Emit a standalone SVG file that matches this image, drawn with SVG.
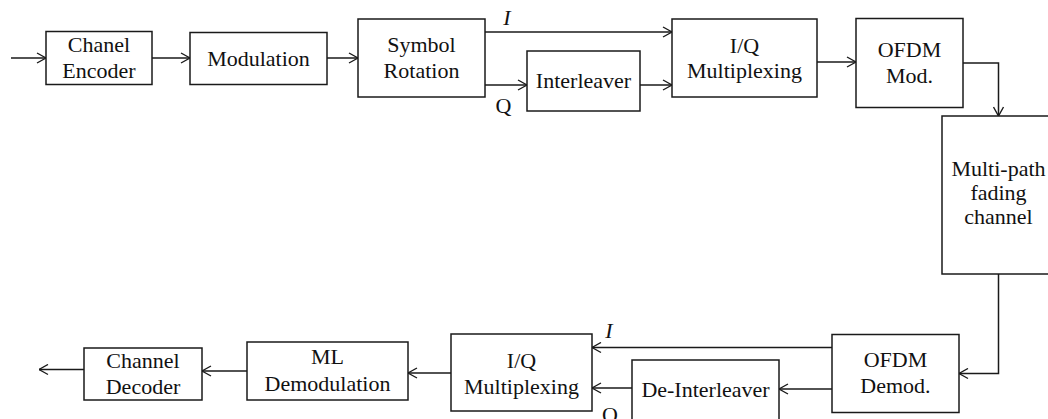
<svg xmlns="http://www.w3.org/2000/svg" width="1048" height="419" viewBox="0 0 1048 419">
<style>
.box{fill:#fff;stroke:#1a1a1a;stroke-width:1.5}
.t{font-family:"Liberation Serif","Times New Roman",serif;font-size:22px;fill:#111;text-anchor:middle}
.it{font-style:italic}
.c{fill:none;stroke:#1a1a1a;stroke-width:1.5}
</style>
<defs>
<marker id="ah" viewBox="0 0 10 12" refX="10" refY="6" markerWidth="10" markerHeight="12" markerUnits="userSpaceOnUse" orient="auto">
<path d="M1,1 L10,6 L1,11" fill="none" stroke="#1a1a1a" stroke-width="1.4"/>
</marker>
</defs>
<rect width="1048" height="419" fill="#fff"/>
<g id="connectors">
<line class="c" x1="11" y1="58" x2="46" y2="58" marker-end="url(#ah)"/>
<line class="c" x1="152" y1="58" x2="190" y2="58" marker-end="url(#ah)"/>
<line class="c" x1="327" y1="58" x2="358" y2="58" marker-end="url(#ah)"/>
<line class="c" x1="485" y1="32" x2="672" y2="32" marker-end="url(#ah)"/>
<line class="c" x1="485" y1="85" x2="527" y2="85" marker-end="url(#ah)"/>
<line class="c" x1="640" y1="85" x2="672" y2="85" marker-end="url(#ah)"/>
<line class="c" x1="817" y1="62" x2="856" y2="62" marker-end="url(#ah)"/>
<polyline class="c" points="963,63 998.5,63 998.5,116" marker-end="url(#ah)"/>
<polyline class="c" points="998.5,274 998.5,373.5 959,373.5" marker-end="url(#ah)"/>
<line class="c" x1="832" y1="347.5" x2="592" y2="347.5" marker-end="url(#ah)"/>
<line class="c" x1="832" y1="389" x2="779" y2="389" marker-end="url(#ah)"/>
<line class="c" x1="632" y1="388" x2="592" y2="388" marker-end="url(#ah)"/>
<line class="c" x1="451" y1="373" x2="408" y2="373" marker-end="url(#ah)"/>
<line class="c" x1="247" y1="371" x2="202" y2="371" marker-end="url(#ah)"/>
<line class="c" x1="84" y1="369.5" x2="39" y2="369.5" marker-end="url(#ah)"/>
<text class="t it" x="507" y="25">I</text>
<text class="t" x="503.5" y="113">Q</text>
<text class="t it" x="609" y="338">I</text>
<text class="t" x="610" y="421.5">Q</text>
</g>
<g id="chanel-encoder"><rect class="box" x="46" y="31.5" width="106" height="53"/><text class="t" x="99" y="51.5">Chanel</text><text class="t" x="99" y="77.5">Encoder</text></g>
<g id="modulation"><rect class="box" x="190" y="32.5" width="137" height="52"/><text class="t" x="258.5" y="66">Modulation</text></g>
<g id="symbol-rotation"><rect class="box" x="358" y="19" width="127" height="78"/><text class="t" x="421.5" y="52">Symbol</text><text class="t" x="421.5" y="78">Rotation</text></g>
<g id="interleaver"><rect class="box" x="527" y="51" width="113" height="60"/><text class="t" x="583.5" y="88">Interleaver</text></g>
<g id="iq-mux-tx"><rect class="box" x="672" y="19" width="145" height="78"/><text class="t" x="744.5" y="52.5">I/Q</text><text class="t" x="744.5" y="78">Multiplexing</text></g>
<g id="ofdm-mod"><rect class="box" x="856" y="18.5" width="107" height="89"/><text class="t" x="909.5" y="57">OFDM</text><text class="t" x="909.5" y="83">Mod.</text></g>
<g id="channel"><rect class="box" x="942" y="116" width="110" height="158"/><text class="t" x="998.5" y="176">Multi-path</text><text class="t" x="998.5" y="200">fading</text><text class="t" x="998.5" y="224">channel</text></g>
<g id="ofdm-demod"><rect class="box" x="832" y="334.5" width="127" height="78"/><text class="t" x="895.5" y="367">OFDM</text><text class="t" x="895.5" y="393">Demod.</text></g>
<g id="de-interleaver"><rect class="box" x="632" y="360" width="147" height="70"/><text class="t" x="705.5" y="396.5">De-Interleaver</text></g>
<g id="iq-mux-rx"><rect class="box" x="451" y="334" width="141" height="77"/><text class="t" x="521.5" y="368">I/Q</text><text class="t" x="521.5" y="394">Multiplexing</text></g>
<g id="ml-demod"><rect class="box" x="247" y="342" width="161" height="58"/><text class="t" x="327.5" y="364">ML</text><text class="t" x="327.5" y="390.5">Demodulation</text></g>
<g id="channel-decoder"><rect class="box" x="84" y="348" width="118" height="52"/><text class="t" x="143" y="368">Channel</text><text class="t" x="143" y="393.5">Decoder</text></g>
</svg>
